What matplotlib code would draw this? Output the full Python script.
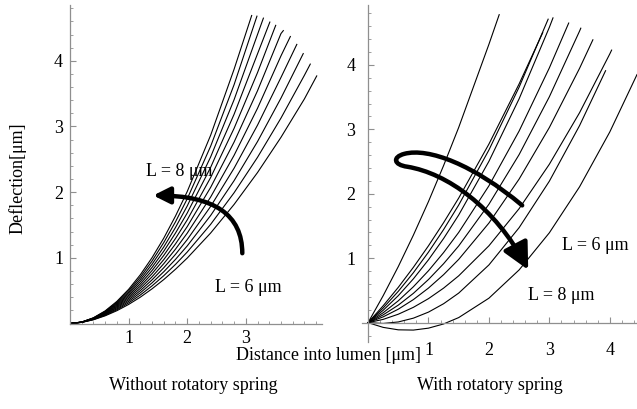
import matplotlib.pyplot as plt
from matplotlib.patches import FancyArrowPatch
from matplotlib.path import Path
from matplotlib.ticker import MultipleLocator

plt.rcParams['font.family'] = ['Liberation Serif', 'DejaVu Serif']

# left panel: deflection curves without rotatory spring (L = 8 um ... 6 um)
left_grid = [0.0, 0.2, 0.4, 0.6, 0.8, 1.0, 1.2, 1.4, 1.6, 1.8, 2.0, 2.4, 2.8, 3.2, 3.6, 4.0]
left_curves_y = [
    [0, 0.022, 0.087, 0.192, 0.337, 0.520, 0.742, 1.002, 1.300, 1.636, 2.009, 2.867, 3.872],
    [0, 0.022, 0.085, 0.185, 0.323, 0.497, 0.707, 0.952, 1.233, 1.548, 1.898, 2.700, 3.637],
    [0, 0.022, 0.082, 0.178, 0.309, 0.474, 0.672, 0.903, 1.166, 1.462, 1.789, 2.537, 3.408, 4.402],
    [0, 0.021, 0.079, 0.171, 0.295, 0.451, 0.638, 0.854, 1.101, 1.377, 1.682, 2.378, 3.186, 4.107],
    [0, 0.021, 0.076, 0.164, 0.281, 0.428, 0.603, 0.806, 1.037, 1.294, 1.577, 2.223, 2.972, 3.821],
    [0, 0.020, 0.073, 0.156, 0.267, 0.405, 0.569, 0.759, 0.973, 1.212, 1.475, 2.073, 2.763, 3.545, 4.415],
    [0, 0.020, 0.070, 0.149, 0.253, 0.382, 0.535, 0.711, 0.911, 1.132, 1.375, 1.926, 2.561, 3.278, 4.075],
    [0, 0.019, 0.067, 0.141, 0.239, 0.359, 0.501, 0.665, 0.849, 1.053, 1.277, 1.783, 2.365, 3.021, 3.747],
    [0, 0.018, 0.064, 0.133, 0.224, 0.336, 0.468, 0.619, 0.788, 0.976, 1.181, 1.645, 2.175, 2.771, 3.432],
    [0, 0.017, 0.060, 0.125, 0.210, 0.313, 0.434, 0.573, 0.728, 0.900, 1.088, 1.510, 1.991, 2.531, 3.128, 3.780],
    [0, 0.017, 0.057, 0.117, 0.195, 0.290, 0.401, 0.528, 0.669, 0.826, 0.996, 1.378, 1.813, 2.299, 2.835, 3.420],
]
left_end_x = [3.10, 3.19, 3.30, 3.41, 3.51, 3.64, 3.76, 3.87, 3.98, 4.10, 4.21]
left_end_y = [4.69, 4.68, 4.65, 4.59, 4.54, 4.46, 4.37, 4.25, 4.11, 3.95, 3.77]

# right panel: deflection curves with rotatory spring
right_grid = [0.0, 0.25, 0.5, 0.75, 1.0, 1.25, 1.5, 2.0, 2.5, 3.0, 3.5, 4.0]
right_curves_y = [
    [0, 0.418, 0.870, 1.358, 1.880, 2.438, 3.030, 4.320],
    [0, 0.262, 0.548, 0.859, 1.193, 1.552, 1.934, 2.772, 3.706],
    [0, 0.228, 0.486, 0.775, 1.095, 1.445, 1.826, 2.680, 3.656],
    [0, 0.192, 0.419, 0.680, 0.976, 1.306, 1.671, 2.504, 3.475, 4.584],
    [0, 0.154, 0.339, 0.557, 0.806, 1.088, 1.401, 2.124, 2.975, 3.954],
    [0, 0.121, 0.272, 0.455, 0.670, 0.915, 1.191, 1.838, 2.609, 3.506, 4.526],
    [0, 0.090, 0.209, 0.358, 0.537, 0.745, 0.982, 1.546, 2.229, 3.029, 3.948],
    [0, 0.051, 0.131, 0.238, 0.373, 0.536, 0.727, 1.193, 1.770, 2.459, 3.259, 4.171],
    [0, -0.012, 0.011, 0.070, 0.164, 0.294, 0.459, 0.896, 1.475, 2.196, 3.059],
    [0, -0.073, -0.111, -0.115, -0.085, -0.020, 0.079, 0.380, 0.819, 1.395, 2.109, 2.960],
]
right_end_x = [2.17, 2.89, 2.98, 3.06, 3.32, 3.52, 3.72, 4.03, 3.93, 4.45]
right_end_y = [4.78, 4.50, 4.71, 4.73, 4.65, 4.57, 4.39, 4.23, 3.91, 3.85]

W, H = 637, 409
fig = plt.figure(figsize=(W / 100, H / 100), dpi=100)
ax1 = fig.add_axes([70 / W, 85.5 / H, 252 / W, 318.5 / H])
ax2 = fig.add_axes([362 / W, 67 / H, 275 / W, 337 / H])


def style_axes(ax, xlabels, xpad, ypad):
    ax.patch.set_visible(False)
    for s in ['top', 'right']:
        ax.spines[s].set_visible(False)
    for s in ['left', 'bottom']:
        ax.spines[s].set_position(('data', 0))
        ax.spines[s].set_color('#8f8f8f')
        ax.spines[s].set_linewidth(0.9)
    ax.xaxis.set_minor_locator(MultipleLocator(0.2))
    ax.yaxis.set_minor_locator(MultipleLocator(0.2))
    ax.set_xticks(xlabels)
    ax.set_yticks([1, 2, 3, 4])
    ax.tick_params(which='both', direction='in', color='#8f8f8f',
                   labelcolor='black', labelsize=13)
    ax.tick_params(which='major', length=4)
    ax.tick_params(which='minor', length=2)
    ax.tick_params(axis='x', pad=xpad)
    ax.tick_params(axis='y', pad=ypad)


for ys, ex, ey in zip(left_curves_y, left_end_x, left_end_y):
    ax1.plot(left_grid[:len(ys)] + [ex], ys + [ey], color='black', lw=0.8)
ax1.set_xlim(0, 4.3)
ax1.set_ylim(0, 4.85)
style_axes(ax1, [1, 2, 3], 5, 5)

for ys, ex, ey in zip(right_curves_y, right_end_x, right_end_y):
    ax2.plot(right_grid[:len(ys)] + [ex], ys + [ey], color='black', lw=0.8)
ax2.set_xlim(-0.1, 4.45)
ax2.set_ylim(-0.3, 4.93)
style_axes(ax2, [1, 2, 3, 4], 14, 9)

# left curved arrow (L = 6 um -> L = 8 um)
ax1.annotate('', xy=(1.42, 1.95), xytext=(2.94, 1.07),
             arrowprops=dict(arrowstyle='-|>,head_length=0.9,head_width=0.45',
                             connectionstyle='angle3,angleA=90,angleB=0',
                             lw=3.2, color='black', mutation_scale=11,
                             shrinkA=0, shrinkB=0))

# right hook arrow
hook = Path([(2.55, 1.82), (1.75, 2.45), (1.0, 2.72), (0.6, 2.62),
             (0.40, 2.57), (0.42, 2.45), (0.65, 2.42),
             (1.3, 2.32), (2.1, 1.80), (2.65, 0.82)],
            [Path.MOVETO] + [Path.CURVE4] * 9)
ax2.add_patch(FancyArrowPatch(path=hook,
                              arrowstyle='-|>,head_length=1.0,head_width=0.5',
                              mutation_scale=16, lw=3.2, color='black'))


def ftext(x, y, s, **kw):
    fig.text(x / W, 1 - y / H, s, ha='center', va='center', fontsize=13, **kw)


ftext(179, 172, 'L = 8 μm')
ftext(248, 287, 'L = 6 μm')
ftext(595, 245, 'L = 6 μm')
ftext(561, 295, 'L = 8 μm')
ftext(18, 178, 'Deflection[μm]', rotation=90)
ftext(328, 355, 'Distance into lumen [μm]')
ftext(193, 386, 'Without rotatory spring')
ftext(490, 386, 'With rotatory spring')

fig.savefig('out.png', dpi=100)
